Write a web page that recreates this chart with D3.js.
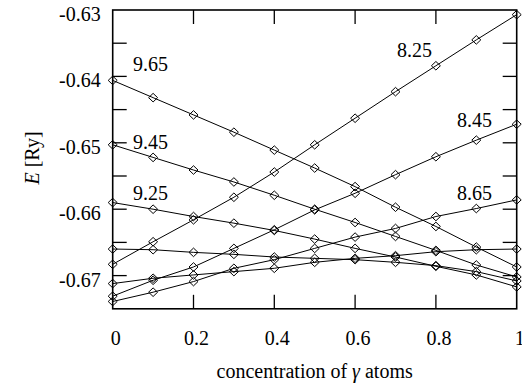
<!DOCTYPE html>
<html>
<head>
<meta charset="utf-8">
<script src="https://cdn.jsdelivr.net/npm/d3@7"></script>
<style>
  body { margin: 0; background: #fff; }
  svg text { font-family: "Liberation Serif", "DejaVu Serif", serif; fill: #000; }
</style>
</head>
<body>
<div id="chart"></div>
<script>
// concentration of gamma atoms
const conc = [0, 0.1, 0.2, 0.3, 0.4, 0.5, 0.6, 0.7, 0.8, 0.9, 1]

// energies [Ry] per lattice parameter
const e825 = [-0.6683, -0.6649, -0.6616, -0.6582, -0.6544, -0.6503, -0.6463, -0.6423, -0.6384, -0.6345, -0.6307]
const e845 = [-0.6731, -0.6707, -0.6687, -0.6659, -0.6631, -0.6601, -0.6576, -0.6548, -0.6521, -0.6496, -0.6472]
const e865 = [-0.6739, -0.6725, -0.6709, -0.6689, -0.6676, -0.6659, -0.6642, -0.6629, -0.6611, -0.6599, -0.6586]
const e885 = [-0.6712, -0.6704, -0.6699, -0.6694, -0.6689, -0.6680, -0.6674, -0.6670, -0.6664, -0.6661, -0.6660]
const e905 = [-0.6660, -0.6661, -0.6665, -0.6668, -0.6672, -0.6674, -0.6676, -0.6680, -0.6685, -0.6694, -0.6708]
const e925 = [-0.6590, -0.6600, -0.6611, -0.6621, -0.6632, -0.6645, -0.6659, -0.6672, -0.6686, -0.6699, -0.6717]
const e945 = [-0.6503, -0.6522, -0.6541, -0.6559, -0.6579, -0.6600, -0.6620, -0.6641, -0.6662, -0.6684, -0.6702]
const e965 = [-0.6406, -0.6432, -0.6458, -0.6484, -0.6511, -0.6538, -0.6566, -0.6597, -0.6626, -0.6657, -0.6687]

const seriesList = [e825, e845, e865, e885, e905, e925, e945, e965]

// labelled curves and where their label sits (data coords)
const labelText = ["9.65", "9.45", "9.25", "8.25", "8.45", "8.65"]
const labelConc = [0.05, 0.05, 0.05, 0.704, 0.852, 0.852]
const labelE = [-0.6392, -0.6509, -0.6586, -0.6371, -0.6476, -0.6586]

const xTicks = [0, 0.2, 0.4, 0.6, 0.8, 1]
const yTicks = [-0.63, -0.64, -0.65, -0.66, -0.67]
const yMinorTicks = [-0.635, -0.64, -0.645, -0.65, -0.655, -0.66, -0.665, -0.67]

const width = 522
const height = 390
const margin = { top: 10, left: 112.7, bottom: 81.2, right: 5.3 }
const innerW = width - margin.left - margin.right
const innerH = height - margin.top - margin.bottom
const tickLen = 14

// plain hyphen instead of d3's unicode minus
const fmt = f => d => d3.format(f)(d).replace("\u2212", "-")

const x = d3.scaleLinear().domain([0, 1]).range([0, innerW])
const y = d3.scaleLinear().domain([-0.675, -0.63]).range([innerH, 0])

const svg = d3.select("#chart").append("svg")
    .attr("width", width)
    .attr("height", height)

const g = svg.append("g")
    .attr("transform", "translate(" + margin.left + "," + margin.top + ")")

// inward ticks on all four sides
const inner = xTicks.slice(1, -1)
g.append("g").selectAll("line.xb").data(inner).enter().append("line")
    .attr("x1", d => x(d)).attr("x2", d => x(d))
    .attr("y1", innerH).attr("y2", innerH - tickLen)
g.append("g").selectAll("line.xt").data(inner).enter().append("line")
    .attr("x1", d => x(d)).attr("x2", d => x(d))
    .attr("y1", 0).attr("y2", tickLen)
g.append("g").selectAll("line.yl").data(yMinorTicks).enter().append("line")
    .attr("x1", 0).attr("x2", tickLen)
    .attr("y1", d => y(d)).attr("y2", d => y(d))
g.append("g").selectAll("line.yr").data(yMinorTicks).enter().append("line")
    .attr("x1", innerW).attr("x2", innerW - tickLen)
    .attr("y1", d => y(d)).attr("y2", d => y(d))
g.selectAll("line").attr("stroke", "#000").attr("stroke-width", 1.3)

// tick labels
g.append("g").selectAll("text").data(xTicks).enter().append("text")
    .attr("x", d => x(d) + 3)
    .attr("y", innerH + 36)
    .attr("text-anchor", "middle")
    .style("font-size", "20px")
    .text(fmt(""))

g.append("g").selectAll("text").data(yTicks).enter().append("text")
    .attr("x", -12)
    .attr("y", d => y(d) + 11)
    .attr("text-anchor", "end")
    .style("font-size", "20px")
    .text(fmt(".2f"))

// curves
const line = d3.line()
    .x((d, i) => x(conc[i]))
    .y(d => y(d))

const curves = g.append("g").attr("class", "curves")
curves.selectAll("path").data(seriesList).enter().append("path")
    .attr("d", d => line(d))
    .attr("fill", "none")
    .attr("stroke", "#000")
    .attr("stroke-width", 1)

const diamond = "M0,-4.3L4.5,0L0,4.3L-4.5,0Z"
seriesList.forEach(s => {
    curves.append("g").selectAll("path").data(s).enter().append("path")
        .attr("d", diamond)
        .attr("transform", (d, i) => "translate(" + x(conc[i]) + "," + y(d) + ")")
        .attr("fill", "none")
        .attr("stroke", "#000")
        .attr("stroke-width", 1)
})

// frame
g.append("rect")
    .attr("width", innerW).attr("height", innerH)
    .attr("fill", "none").attr("stroke", "#000").attr("stroke-width", 1.6)

// curve labels
g.append("g").selectAll("text").data(labelText).enter().append("text")
    .attr("x", (d, i) => x(labelConc[i]))
    .attr("y", (d, i) => y(labelE[i]))
    .style("font-size", "20px")
    .text(d => d)

// axis titles
const xt = g.append("text")
    .attr("x", innerW / 2)
    .attr("y", innerH + 69)
    .attr("text-anchor", "middle")
    .style("font-size", "20px")
xt.append("tspan").text("concentration of ")
xt.append("tspan").style("font-style", "italic").text("γ")
xt.append("tspan").text(" atoms")

const yt = svg.append("text")
    .attr("transform", "translate(39,158) rotate(-90)")
    .attr("text-anchor", "middle")
    .style("font-size", "20px")
yt.append("tspan").style("font-style", "italic").text("E")
yt.append("tspan").text(" [Ry]")
</script>
</body>
</html>
